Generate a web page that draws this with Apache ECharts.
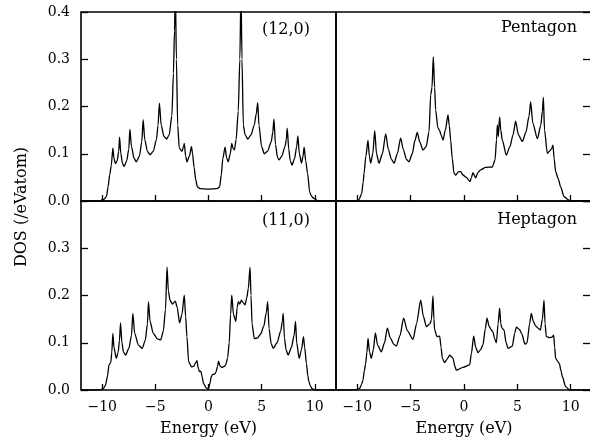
<!DOCTYPE html>
<html>
<head>
<meta charset="utf-8">
<script src="https://cdn.jsdelivr.net/npm/echarts@6/dist/echarts.min.js"></script>
<style>
  html, body { margin: 0; padding: 0; background: #fff; }
  #chart { width: 590px; height: 443px; }
</style>
</head>
<body>
<div id="chart"></div>
<script>
// energy ticks (eV) and DOS ticks
const energyTicks = [-10, -5, 0, 5, 10];
const panelNames = ['(12,0)', 'Pentagon', '(11,0)', 'Heptagon'];

// [energy, DOS]
const dos120 = [
  [-12, 0], [-10.2, 0], [-10.0, 0.003], [-9.8, 0.004], [-9.6, 0.01], [-9.45, 0.03], [-9.3, 0.055],
  [-9.15, 0.075], [-9.0, 0.112], [-8.9, 0.09], [-8.75, 0.079], [-8.6, 0.085], [-8.45, 0.105],
  [-8.37, 0.135], [-8.25, 0.1], [-8.1, 0.08], [-7.95, 0.073], [-7.7, 0.085], [-7.5, 0.11],
  [-7.4, 0.152], [-7.25, 0.115], [-7.0, 0.09], [-6.8, 0.083], [-6.5, 0.095], [-6.28, 0.125],
  [-6.15, 0.172], [-6.0, 0.13], [-5.75, 0.105], [-5.5, 0.098], [-5.2, 0.105], [-4.9, 0.13],
  [-4.75, 0.16], [-4.62, 0.207], [-4.45, 0.16], [-4.2, 0.137], [-3.95, 0.131], [-3.7, 0.14],
  [-3.45, 0.18], [-3.3, 0.27], [-3.2, 0.36], [-3.12, 0.45], [-3.02, 0.3], [-2.9, 0.16],
  [-2.75, 0.112], [-2.5, 0.105], [-2.35, 0.115], [-2.28, 0.122], [-2.15, 0.095], [-2.03, 0.083],
  [-1.8, 0.095], [-1.6, 0.115], [-1.5, 0.1], [-1.35, 0.07], [-1.2, 0.045], [-1.05, 0.03],
  [-0.8, 0.026], [0, 0.025], [0.8, 0.026], [1.05, 0.03], [1.2, 0.055], [1.35, 0.09], [1.56, 0.114],
  [1.7, 0.092], [1.85, 0.083], [2.05, 0.1], [2.19, 0.122], [2.3, 0.112], [2.44, 0.108], [2.6, 0.13],
  [2.8, 0.19], [2.95, 0.3], [3.06, 0.45], [3.15, 0.3], [3.28, 0.16], [3.45, 0.14], [3.7, 0.131],
  [4.0, 0.14], [4.3, 0.16], [4.5, 0.185], [4.63, 0.208], [4.75, 0.16], [5.0, 0.115], [5.25, 0.1],
  [5.55, 0.105], [5.9, 0.125], [6.05, 0.145], [6.16, 0.173], [6.3, 0.12], [6.5, 0.092],
  [6.65, 0.087], [6.9, 0.095], [7.2, 0.115], [7.32, 0.13], [7.41, 0.154], [7.55, 0.11],
  [7.7, 0.085], [7.87, 0.076], [8.1, 0.09], [8.3, 0.115], [8.41, 0.138], [8.55, 0.1], [8.75, 0.08],
  [8.9, 0.095], [9.0, 0.114], [9.15, 0.085], [9.32, 0.059], [9.53, 0.018], [9.7, 0.01],
  [9.9, 0.006], [10.1, 0.003], [10.3, 0], [12, 0]
];

const dosPent = [
  [-12, 0], [-10.1, 0], [-9.85, 0.003], [-9.6, 0.015], [-9.45, 0.04], [-9.37, 0.059], [-9.2, 0.095],
  [-9.0, 0.128], [-8.87, 0.095], [-8.75, 0.08], [-8.55, 0.1], [-8.37, 0.149], [-8.2, 0.1],
  [-7.97, 0.08], [-7.65, 0.1], [-7.34, 0.142], [-7.1, 0.11], [-6.8, 0.088], [-6.56, 0.08],
  [-6.25, 0.1], [-5.94, 0.133], [-5.7, 0.11], [-5.4, 0.088], [-5.16, 0.083], [-4.85, 0.1],
  [-4.6, 0.128], [-4.38, 0.145], [-4.15, 0.125], [-3.84, 0.108], [-3.55, 0.115], [-3.28, 0.146],
  [-3.12, 0.225], [-3.0, 0.24], [-2.88, 0.305], [-2.75, 0.24], [-2.66, 0.193], [-2.45, 0.155],
  [-2.3, 0.15], [-2.15, 0.14], [-1.97, 0.129], [-1.75, 0.15], [-1.5, 0.182], [-1.38, 0.16],
  [-1.25, 0.129], [-1.1, 0.09], [-0.94, 0.059], [-0.78, 0.055], [-0.5, 0.062], [-0.31, 0.062],
  [-0.1, 0.055], [0.22, 0.05], [0.56, 0.041], [0.7, 0.05], [0.84, 0.06], [1.09, 0.049],
  [1.3, 0.06], [1.56, 0.066], [2.03, 0.071], [2.66, 0.072], [2.91, 0.087], [3.05, 0.13],
  [3.13, 0.161], [3.22, 0.137], [3.34, 0.178], [3.45, 0.15], [3.59, 0.129], [3.97, 0.097],
  [4.3, 0.115], [4.6, 0.14], [4.84, 0.169], [5.1, 0.14], [5.47, 0.126], [5.8, 0.145], [6.1, 0.18],
  [6.25, 0.21], [6.45, 0.165], [6.88, 0.132], [7.2, 0.16], [7.35, 0.19], [7.44, 0.219],
  [7.55, 0.15], [7.81, 0.101], [8.0, 0.105], [8.2, 0.11], [8.34, 0.118], [8.45, 0.09],
  [8.59, 0.062], [8.84, 0.047], [9.06, 0.03], [9.38, 0.009], [9.84, 0.002], [10.2, 0], [12, 0]
];

const dos110 = [
  [-12, 0], [-10.2, 0], [-9.9, 0.003], [-9.7, 0.01], [-9.5, 0.03], [-9.37, 0.053], [-9.2, 0.058],
  [-9.1, 0.08], [-9.0, 0.12], [-8.9, 0.09], [-8.68, 0.067], [-8.5, 0.08], [-8.38, 0.105],
  [-8.28, 0.142], [-8.15, 0.1], [-8.0, 0.08], [-7.8, 0.074], [-7.5, 0.088], [-7.25, 0.115],
  [-7.12, 0.162], [-6.95, 0.12], [-6.6, 0.095], [-6.24, 0.088], [-5.95, 0.105], [-5.75, 0.14],
  [-5.65, 0.187], [-5.5, 0.145], [-5.2, 0.12], [-4.8, 0.108], [-4.5, 0.106], [-4.25, 0.125],
  [-4.05, 0.17], [-3.9, 0.26], [-3.78, 0.21], [-3.62, 0.19], [-3.4, 0.182], [-3.12, 0.188],
  [-2.95, 0.175], [-2.72, 0.142], [-2.5, 0.16], [-2.28, 0.201], [-2.15, 0.155], [-2.03, 0.113],
  [-1.87, 0.06], [-1.6, 0.049], [-1.4, 0.05], [-1.2, 0.058], [-1.09, 0.062], [-0.95, 0.045],
  [-0.85, 0.039], [-0.72, 0.04], [-0.6, 0.028], [-0.47, 0.014], [-0.2, 0.004], [0, 0.003],
  [0.15, 0.015], [0.25, 0.028], [0.4, 0.033], [0.55, 0.033], [0.7, 0.038], [0.85, 0.05],
  [0.94, 0.061], [1.1, 0.05], [1.25, 0.048], [1.5, 0.05], [1.65, 0.055], [1.8, 0.068], [1.95, 0.1],
  [2.08, 0.16], [2.19, 0.201], [2.35, 0.16], [2.57, 0.145], [2.7, 0.175], [2.81, 0.187],
  [2.95, 0.182], [3.1, 0.19], [3.22, 0.186], [3.44, 0.18], [3.6, 0.195], [3.75, 0.215],
  [3.91, 0.26], [4.0, 0.2], [4.1, 0.14], [4.31, 0.109], [4.6, 0.11], [4.9, 0.118], [5.2, 0.135],
  [5.45, 0.165], [5.57, 0.187], [5.7, 0.13], [5.9, 0.098], [6.09, 0.088], [6.45, 0.1], [6.8, 0.125],
  [6.95, 0.145], [7.03, 0.162], [7.15, 0.11], [7.3, 0.085], [7.5, 0.074], [7.8, 0.09], [8.05, 0.115],
  [8.19, 0.145], [8.3, 0.1], [8.53, 0.067], [8.75, 0.085], [8.94, 0.113], [9.05, 0.09],
  [9.22, 0.056], [9.35, 0.03], [9.44, 0.018], [9.6, 0.008], [9.75, 0.003], [10, 0], [12, 0]
];

const dosHept = [
  [-12, 0], [-10.1, 0], [-9.8, 0.003], [-9.6, 0.012], [-9.47, 0.021], [-9.35, 0.04], [-9.22, 0.056],
  [-9.1, 0.08], [-9.0, 0.109], [-8.85, 0.08], [-8.69, 0.067], [-8.5, 0.085], [-8.31, 0.121],
  [-8.1, 0.095], [-7.75, 0.081], [-7.45, 0.1], [-7.19, 0.131], [-6.9, 0.11], [-6.6, 0.097],
  [-6.34, 0.093], [-6.0, 0.115], [-5.66, 0.152], [-5.3, 0.125], [-4.78, 0.107], [-4.45, 0.14],
  [-4.06, 0.19], [-3.8, 0.155], [-3.53, 0.134], [-3.2, 0.14], [-3.06, 0.148], [-2.91, 0.199],
  [-2.82, 0.15], [-2.75, 0.127], [-2.53, 0.113], [-2.28, 0.114], [-2.15, 0.09], [-2.03, 0.067],
  [-1.81, 0.058], [-1.6, 0.065], [-1.34, 0.074], [-1.15, 0.07], [-1.03, 0.067], [-0.85, 0.05],
  [-0.72, 0.042], [-0.09, 0.048], [0.53, 0.053], [0.69, 0.077], [0.91, 0.114], [1.1, 0.09],
  [1.31, 0.079], [1.55, 0.085], [1.78, 0.096], [2.0, 0.13], [2.16, 0.152], [2.35, 0.135],
  [2.56, 0.127], [2.72, 0.123], [2.85, 0.11], [3.03, 0.1], [3.2, 0.14], [3.34, 0.173], [3.45, 0.14],
  [3.56, 0.131], [3.75, 0.127], [3.95, 0.1], [4.13, 0.088], [4.53, 0.093], [4.75, 0.12],
  [4.91, 0.133], [5.2, 0.128], [5.4, 0.12], [5.72, 0.097], [5.91, 0.1], [6.15, 0.14], [6.31, 0.162],
  [6.5, 0.145], [6.72, 0.135], [7.0, 0.13], [7.16, 0.127], [7.35, 0.15], [7.5, 0.19], [7.6, 0.14],
  [7.72, 0.113], [8.03, 0.111], [8.25, 0.112], [8.41, 0.116], [8.5, 0.09], [8.59, 0.067],
  [8.81, 0.06], [8.95, 0.055], [9.1, 0.04], [9.22, 0.028], [9.53, 0.007], [9.9, 0], [12, 0]
];

const FONT = 'DejaVu Serif';
const panels = [dos120, dosPent, dos110, dosHept];

// grid boxes: top-left, top-right, bottom-left, bottom-right
const grids = [
  { left: 81, top: 12, width: 255, height: 189 },
  { left: 336, top: 12, width: 256, height: 189 },
  { left: 81, top: 201, width: 255, height: 189 },
  { left: 336, top: 201, width: 256, height: 189 }
].map((g) => Object.assign(g, {
  show: true, borderColor: '#000', borderWidth: 1.6, outerBoundsMode: 'none'
}));

const xAxes = grids.map((g, i) => {
  const bottomRow = i >= 2;
  return {
    gridIndex: i,
    type: 'value',
    min: -12,
    max: 12,
    axisLine: { show: false, onZero: false },
    axisTick: {
      inside: true, length: 6, customValues: energyTicks,
      lineStyle: { color: '#000', width: 1.3 }
    },
    axisLabel: {
      show: bottomRow, customValues: energyTicks, margin: 10,
      color: '#000', fontFamily: FONT, fontSize: 14,
      formatter: (v) => String(v).replace('-', '\u2212')
    },
    splitLine: { show: false },
    name: bottomRow ? 'Energy (eV)' : '',
    nameLocation: 'middle',
    nameGap: 31,
    nameTextStyle: { color: '#000', fontFamily: FONT, fontSize: 16 }
  };
});

const yAxes = grids.map((g, i) => {
  const leftCol = i % 2 === 0;
  return {
    gridIndex: i,
    type: 'value',
    min: 0,
    max: 0.4,
    interval: 0.1,
    position: leftCol ? 'left' : 'right',
    axisLine: { show: false, onZero: false },
    axisTick: { inside: true, length: leftCol ? 7 : 9, lineStyle: { color: '#000', width: 1.3 } },
    axisLabel: {
      show: leftCol, margin: 11, showMaxLabel: i === 0,
      color: '#000', fontFamily: FONT, fontSize: 14,
      formatter: (v) => v.toFixed(1)
    },
    splitLine: { show: false }
  };
});

const series = panels.map((d, i) => ({
  type: 'line',
  xAxisIndex: i,
  yAxisIndex: i,
  data: d,
  showSymbol: false,
  smooth: 0.25,
  smoothMonotone: 'x',
  clip: true,
  lineStyle: { color: '#000', width: 1.3 }
}));

// panel tags + shared y title
const tagPos = [[310, 30], [577, 28], [310, 221], [577, 220]];
const graphic = panelNames.map((t, i) => ({
  type: 'text',
  x: tagPos[i][0],
  y: tagPos[i][1],
  style: {
    text: t, fill: '#000', font: '16px "' + FONT + '"',
    textAlign: 'right', textVerticalAlign: 'middle'
  }
}));
graphic.push({
  type: 'text',
  x: 22,
  y: 207,
  rotation: Math.PI / 2,
  style: {
    text: 'DOS (/eVatom)', fill: '#000', font: '16px "' + FONT + '"',
    textAlign: 'center', textVerticalAlign: 'middle'
  }
});

const myChart = echarts.init(document.getElementById('chart'));
myChart.setOption({
  backgroundColor: '#fff',
  animation: false,
  grid: grids,
  xAxis: xAxes,
  yAxis: yAxes,
  series: series,
  graphic: graphic
});
</script>
</body>
</html>
